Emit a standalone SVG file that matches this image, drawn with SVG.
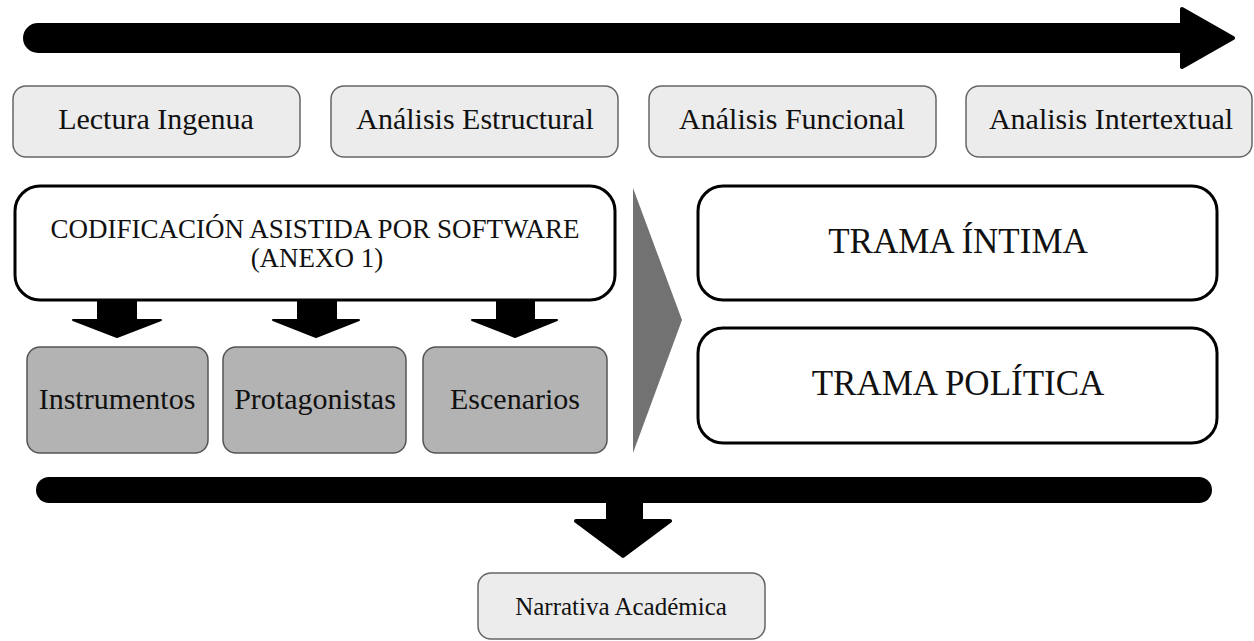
<svg xmlns="http://www.w3.org/2000/svg" width="1254" height="641" viewBox="0 0 1254 641">
<defs>
<style>
text{font-family:"Liberation Serif","Times New Roman",serif;fill:#111;text-anchor:middle}
.phase{fill:#ececec;stroke:#666;stroke-width:1.5}
.cat{fill:#b3b3b3;stroke:#555;stroke-width:1.5}
.main{fill:#fff;stroke:#000;stroke-width:3}
.arr{fill:#000;stroke:#000;stroke-linejoin:round}
.t30{font-size:30px}
.t35{font-size:35px}
</style>
</defs>
<rect width="1254" height="641" fill="#fff"/>
<g id="connectors">
<path class="arr" stroke-width="4" d="M38 25 H1182 V9 L1233 38 L1182 67 V51 H38 A13 13 0 0 1 38 25 Z"/>
<path class="arr" stroke-width="2" d="M98 300 V320 H73 L117 337 L161 320 H136 V300 Z"/>
<path class="arr" stroke-width="2" d="M298 300 V320 H273 L316 337 L359 320 H336 V300 Z"/>
<path class="arr" stroke-width="2" d="M497 300 V320 H472 L515 337 L557 320 H534 V300 Z"/>
<polygon points="633,188 682,320 633,453" fill="#727272"/>
<rect x="36" y="477" width="1176" height="26" rx="13" fill="#000"/>
<path class="arr" stroke-width="4" d="M608 500 V521 H576 L623 556 L670 521 H641 V500 Z"/>
</g>
<g id="lectura"><rect class="phase" x="13" y="86" width="287" height="71" rx="13"/><text class="t30" x="156" y="129">Lectura Ingenua</text></g>
<g id="estructural"><rect class="phase" x="331" y="86" width="287" height="71" rx="13"/><text class="t30" x="475" y="129">Análisis Estructural</text></g>
<g id="funcional"><rect class="phase" x="649" y="86" width="287" height="71" rx="13"/><text class="t30" x="792" y="129">Análisis Funcional</text></g>
<g id="intertextual"><rect class="phase" x="966" y="86" width="286" height="71" rx="13"/><text class="t30" x="1111" y="129">Analisis Intertextual</text></g>
<g id="codificacion"><rect class="main" x="15" y="186" width="600" height="114" rx="25"/>
<text x="315" y="238" font-size="27">CODIFICACIÓN ASISTIDA POR SOFTWARE</text>
<text x="317" y="267" font-size="27">(ANEXO 1)</text></g>
<g id="instrumentos"><rect class="cat" x="27" y="347" width="181" height="106" rx="13"/><text class="t30" x="117" y="409">Instrumentos</text></g>
<g id="protagonistas"><rect class="cat" x="223" y="347" width="183" height="106" rx="13"/><text class="t30" x="315" y="409">Protagonistas</text></g>
<g id="escenarios"><rect class="cat" x="423" y="347" width="184" height="106" rx="13"/><text class="t30" x="515" y="409">Escenarios</text></g>
<g id="trama-intima"><rect class="main" x="698" y="186" width="519" height="114" rx="25"/><text class="t35" x="958" y="253">TRAMA ÍNTIMA</text></g>
<g id="trama-politica"><rect class="main" x="698" y="328" width="519" height="115" rx="25"/><text class="t35" x="958" y="395">TRAMA POLÍTICA</text></g>
<g id="narrativa"><rect class="phase" x="478" y="573" width="287" height="66" rx="13"/><text x="621" y="615" font-size="25">Narrativa Académica</text></g>
</svg>
